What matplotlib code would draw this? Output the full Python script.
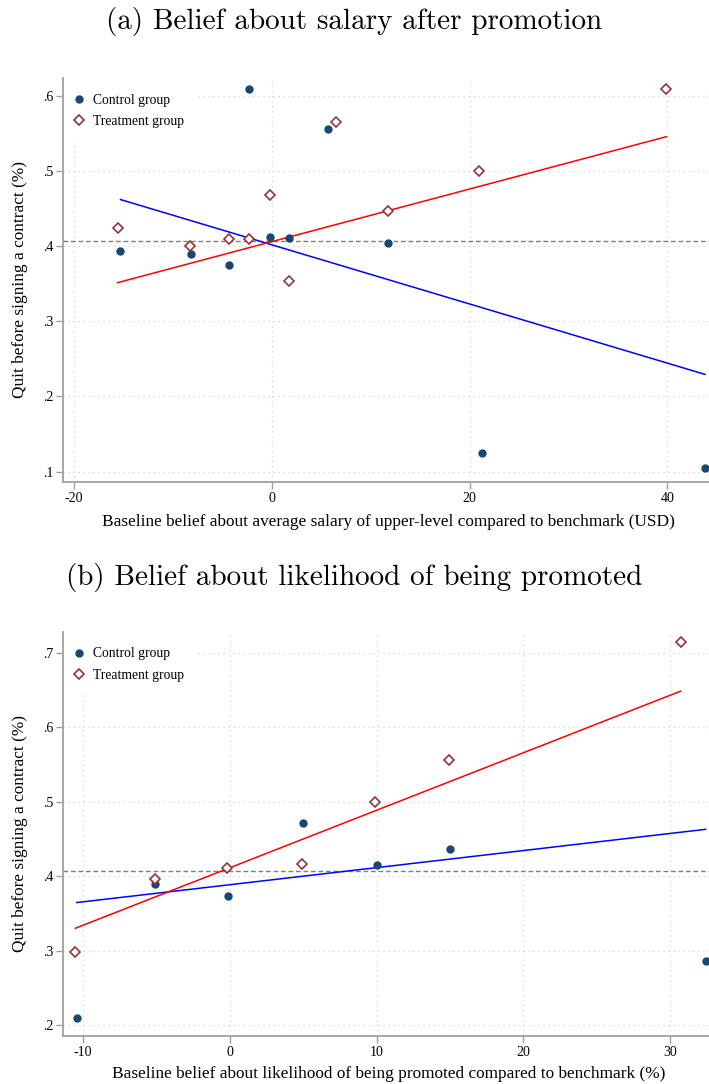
import matplotlib
matplotlib.use("Agg")
from matplotlib import pyplot as plt
from matplotlib.ticker import FuncFormatter
import numpy as np

# (a) belief about salary after promotion
a_ctrl_x = [-15.3, -8.2, -4.3, -2.3, -0.2, 1.7, 5.7, 11.7, 21.3, 43.8]
a_ctrl_y = [0.393, 0.390, 0.375, 0.609, 0.412, 0.411, 0.556, 0.404, 0.125, 0.105]
a_treat_x = [-15.6, -8.3, -4.3, -2.3, -0.2, 1.7, 6.5, 11.7, 20.9, 39.9]
a_treat_y = [0.424, 0.400, 0.409, 0.409, 0.468, 0.354, 0.565, 0.447, 0.500, 0.609]
a_fit_ctrl = [0.4017, -0.003935]    # intercept, slope
a_fit_treat = [0.4059, 0.0035]
a_xticks = [-20, 0, 20, 40]
a_yticks = [0.1, 0.2, 0.3, 0.4, 0.5, 0.6]

# (b) belief about likelihood of being promoted
b_ctrl_x = [-10.4, -5.1, -0.1, 5.0, 10.0, 15.0, 32.4]
b_ctrl_y = [0.210, 0.390, 0.374, 0.471, 0.415, 0.436, 0.286]
b_treat_x = [-10.5, -5.1, -0.2, 4.9, 9.9, 14.9, 30.7]
b_treat_y = [0.298, 0.396, 0.411, 0.416, 0.500, 0.556, 0.714]
b_fit_ctrl = [0.3886, 0.002296]
b_fit_treat = [0.4113, 0.007725]
b_xticks = [-10, 0, 10, 20, 30]
b_yticks = [0.2, 0.3, 0.4, 0.5, 0.6, 0.7]

mean_quit = 0.407

serif = ['Liberation Serif', 'DejaVu Serif']
navy = '#1a476f'
maroon = '#90353b'
axcol = '#a0a0a0'


def yfmt(v, pos):
    s = '%g' % round(v, 2)
    return s.replace('0.', '.')


def draw(ax, cx, cy, tx, ty, fc, ft, xticks, yticks, xlim, ylim, xlabel, xlab_y):
    ax.set_xlim(*xlim)
    ax.set_ylim(*ylim)
    ax.set_xticks(xticks)
    ax.set_yticks(yticks)
    ax.grid(True, color='#d4d4d4', linestyle=(0, (1, 3)), linewidth=0.9)
    ax.set_axisbelow(True)
    ax.axhline(mean_quit, color='#7f7f7f', linewidth=1.0, dashes=(3.4, 2.0), zorder=2)

    # fitted lines over the range of each group's bins
    xs = np.array([min(cx), max(cx)])
    ax.plot(xs, fc[0] + fc[1] * xs, color='blue', linewidth=1.1, zorder=3)
    xs = np.array([min(tx), max(tx)])
    ax.plot(xs, ft[0] + ft[1] * xs, color='red', linewidth=1.1, zorder=3)

    ax.plot(cx, cy, 'o', color=navy, markersize=5, linestyle='none',
            label='Control group', zorder=4)
    ax.plot(tx, ty, 'D', markerfacecolor='white', markeredgecolor=maroon,
            markeredgewidth=1.2, markersize=5.2, linestyle='none',
            label='Treatment group', zorder=4)

    for s in ['top', 'right']:
        ax.spines[s].set_visible(False)
    for s in ['left', 'bottom']:
        ax.spines[s].set_color(axcol)
        ax.spines[s].set_linewidth(1.3)
        ax.spines[s].set_zorder(6)
    ax.tick_params(direction='out', length=4.8, width=1.0, color=axcol,
                   labelsize=10, pad=2.6)
    for lab in ax.get_xticklabels() + ax.get_yticklabels():
        lab.set_family(serif)
    ax.yaxis.set_major_formatter(FuncFormatter(yfmt))
    ax.xaxis.set_major_formatter(FuncFormatter(lambda v, p: '%d' % v))
    ax.set_xlabel(xlabel, family=serif, fontsize=12.4, va='center')
    ax.xaxis.set_label_coords(0.504, xlab_y)
    ax.set_ylabel('Quit before signing a contract (%)', family=serif,
                  fontsize=12.4, va='center')
    ax.yaxis.set_label_coords(-0.067, 0.5)
    leg = ax.legend(loc='upper left', bbox_to_anchor=(0, 0.995), frameon=True,
                    borderaxespad=0, borderpad=1.0, handlelength=0.35,
                    handletextpad=0.8, labelspacing=0.62,
                    prop={'family': serif, 'size': 9.8})
    leg.get_frame().set_facecolor('white')
    leg.get_frame().set_edgecolor('none')
    leg.get_frame().set_alpha(1)
    leg.set_zorder(5)


fig = plt.figure(figsize=(7.09, 10.84), dpi=100)

ax1 = fig.add_axes([0.0893, 0.5554, 0.9107, 0.3726])
draw(ax1, a_ctrl_x, a_ctrl_y, a_treat_x, a_treat_y, a_fit_ctrl, a_fit_treat,
     a_xticks, a_yticks, (-21.08, 44.2), (0.0863, 0.6235),
     'Baseline belief about average salary of upper-level compared to benchmark (USD)',
     -0.099)

ax2 = fig.add_axes([0.0893, 0.0443, 0.9107, 0.3729])
draw(ax2, b_ctrl_x, b_ctrl_y, b_treat_x, b_treat_y, b_fit_ctrl, b_fit_treat,
     b_xticks, b_yticks, (-11.32, 32.63), (0.1856, 0.7282),
     'Baseline belief about likelihood of being promoted compared to benchmark (%)',
     -0.093)

fig.text(0.5, 1 - 22 / 1084, '(a) Belief about salary after promotion',
         family='cmr10', fontsize=21, ha='center', va='center')
fig.text(0.5, 1 - 577 / 1084, '(b) Belief about likelihood of being promoted',
         family='cmr10', fontsize=21, ha='center', va='center')

fig.savefig('out.png', dpi=100)
